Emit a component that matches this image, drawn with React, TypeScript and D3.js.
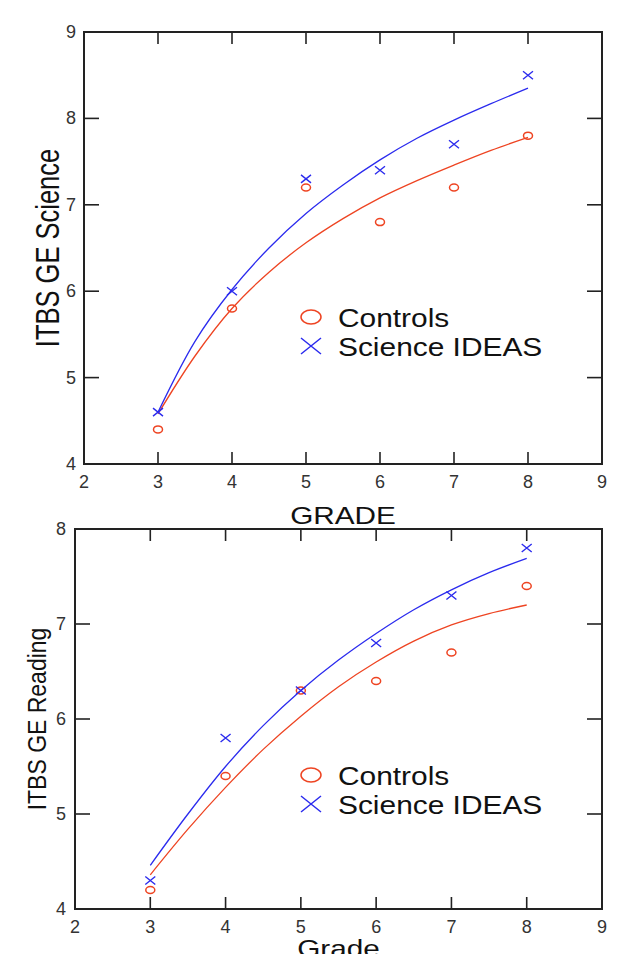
import * as d3 from 'd3';

// grades where points were measured
const grades = [3, 4, 5, 6, 7, 8];
// fitted curve at half grades
const fitGrades = [3, 3.5, 4, 4.5, 5, 5.5, 6, 6.5, 7, 7.5, 8];
const xTicks = [2, 3, 4, 5, 6, 7, 8, 9];

// Science panel
const scienceControls = [4.4, 5.8, 7.2, 6.8, 7.2, 7.8];
const scienceIdeas = [4.6, 6.0, 7.3, 7.4, 7.7, 8.5];
const scienceControlsFit = [4.58, 5.25, 5.8, 6.22, 6.56, 6.84, 7.08, 7.28, 7.46, 7.63, 7.78];
const scienceIdeasFit = [4.6, 5.42, 6.02, 6.5, 6.9, 7.23, 7.52, 7.77, 7.98, 8.17, 8.35];
const scienceYTicks = [4, 5, 6, 7, 8, 9];

// Reading panel
const readingControls = [4.2, 5.4, 6.3, 6.4, 6.7, 7.4];
const readingIdeas = [4.3, 5.8, 6.3, 6.8, 7.3, 7.8];
const readingControlsFit = [4.36, 4.84, 5.28, 5.68, 6.03, 6.34, 6.6, 6.82, 6.99, 7.11, 7.2];
const readingIdeasFit = [4.46, 5.0, 5.5, 5.93, 6.3, 6.62, 6.9, 7.15, 7.36, 7.54, 7.69];
const readingYTicks = [4, 5, 6, 7, 8];

const legendLabels = ['Controls', 'Science IDEAS'];

const RED = '#ee4422';
const BLUE = '#2b2bee';
const FONT = 'Liberation Sans, Arial, sans-serif';

type PanelProps = {
  left: number; right: number; top: number; bottom: number;
  yTicks: number[];
  controls: number[]; ideas: number[];
  controlsFit: number[]; ideasFit: number[];
  yTitle: string; yTitleX: number; yTitleSize: number; yTitleStretch: number;
  xTitle: string; xTitleY: number;
  yLabelX: number;
  legendY: number;
};

function Panel(p: PanelProps) {
  const x = d3.scaleLinear().domain([2, 9]).range([p.left, p.right]);
  const y = d3.scaleLinear().domain(d3.extent(p.yTicks) as [number, number]).range([p.bottom, p.top]);
  const line = d3.line<number>()
    .x((_, i) => x(fitGrades[i]))
    .y(d => y(d))
    .curve(d3.curveCatmullRom.alpha(0.5));
  const midY = (p.top + p.bottom) / 2;

  return (
    <g>
      {/* curves */}
      <path d={line(p.controlsFit)!} fill="none" stroke={RED} strokeWidth={1.3} />
      <path d={line(p.ideasFit)!} fill="none" stroke={BLUE} strokeWidth={1.3} />
      {/* points */}
      {grades.map((g, i) => (
        <ellipse key={'c' + i} cx={x(g)} cy={y(p.controls[i])} rx={4.5} ry={3.5}
          fill="none" stroke={RED} strokeWidth={1.5} />
      ))}
      {grades.map((g, i) => (
        <path key={'x' + i} transform={`translate(${x(g)},${y(p.ideas[i])})`}
          d="M-5,-4L5,4M-5,4L5,-4" stroke={BLUE} strokeWidth={1.4} />
      ))}
      {/* frame */}
      <rect x={p.left} y={p.top} width={p.right - p.left} height={p.bottom - p.top}
        fill="none" stroke="#222" strokeWidth={2} />
      {xTicks.slice(1, -1).map(t => (
        <g key={'xt' + t}>
          <line x1={x(t)} x2={x(t)} y1={p.bottom} y2={p.bottom - 12} stroke="#222" strokeWidth={1.6} />
          <line x1={x(t)} x2={x(t)} y1={p.top} y2={p.top + 12} stroke="#222" strokeWidth={1.6} />
        </g>
      ))}
      {p.yTicks.slice(1, -1).map(t => (
        <g key={'yt' + t}>
          <line x1={p.left} x2={p.left + 15} y1={y(t)} y2={y(t)} stroke="#222" strokeWidth={1.6} />
          <line x1={p.right} x2={p.right - 15} y1={y(t)} y2={y(t)} stroke="#222" strokeWidth={1.6} />
        </g>
      ))}
      {xTicks.map(t => (
        <text key={'xl' + t} x={x(t)} y={p.bottom + 24} textAnchor="middle"
          fontFamily={FONT} fontSize={18} fill="#333">{t}</text>
      ))}
      {p.yTicks.map(t => (
        <text key={'yl' + t} x={p.yLabelX} y={y(t) + 6} textAnchor="end"
          fontFamily={FONT} fontSize={18} fill="#333">{t}</text>
      ))}
      {/* axis titles */}
      <text transform={`translate(${(p.left + p.right) / 2},${p.xTitleY}) scale(1.24,1)`}
        textAnchor="middle" fontFamily={FONT} fontSize={24} fill="#111">{p.xTitle}</text>
      <text transform={`translate(${p.yTitleX},${midY}) scale(${p.yTitleStretch},1) rotate(-90)`}
        textAnchor="middle" fontFamily={FONT} fontSize={p.yTitleSize} fill="#111">{p.yTitle}</text>
      {/* legend */}
      <ellipse cx={311} cy={p.legendY} rx={10} ry={7} fill="none" stroke={RED} strokeWidth={1.5} />
      <path transform={`translate(311,${p.legendY + 29})`} d="M-10,-8L10,8M-10,8L10,-8"
        stroke={BLUE} strokeWidth={1.5} />
      {legendLabels.map((l, i) => (
        <text key={l} transform={`translate(338,${p.legendY + 10 + i * 29}) scale(1.15,1)`}
          fontFamily={FONT} fontSize={26} fill="#111">{l}</text>
      ))}
    </g>
  );
}

export default function App() {
  return (
    <svg width={628} height={954} style={{ position: 'absolute', left: 0, top: 0, background: '#fff' }}>
      <Panel left={84} right={602} top={32} bottom={464}
        yTicks={scienceYTicks}
        controls={scienceControls} ideas={scienceIdeas}
        controlsFit={scienceControlsFit} ideasFit={scienceIdeasFit}
        yTitle="ITBS GE Science" yTitleX={59} yTitleSize={25.5} yTitleStretch={1.3}
        xTitle="GRADE" xTitleY={524}
        yLabelX={76}
        legendY={317} />
      <Panel left={75} right={602} top={529} bottom={909}
        yTicks={readingYTicks}
        controls={readingControls} ideas={readingIdeas}
        controlsFit={readingControlsFit} ideasFit={readingIdeasFit}
        yTitle="ITBS GE Reading" yTitleX={46} yTitleSize={23} yTitleStretch={1.15}
        xTitle="Grade" xTitleY={957}
        yLabelX={66}
        legendY={775} />
    </svg>
  );
}
